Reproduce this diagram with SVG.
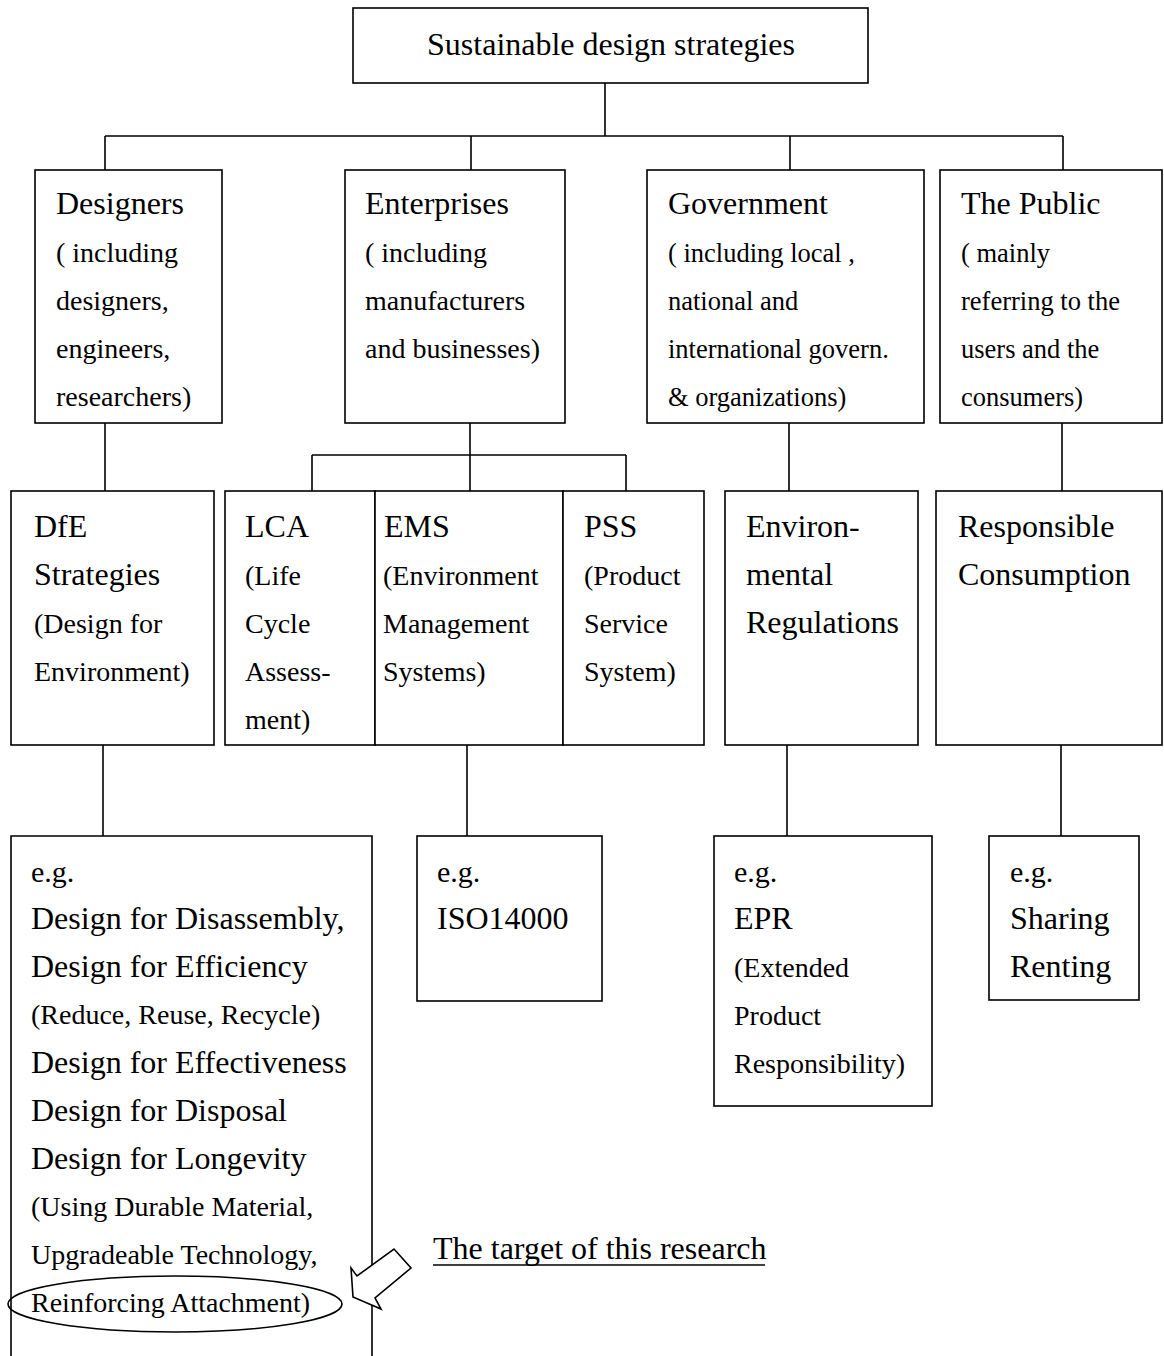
<svg xmlns="http://www.w3.org/2000/svg" width="1164" height="1356" viewBox="0 0 1164 1356">
  <style>
    .box { fill: #ffffff; stroke: #000000; stroke-width: 1.6; }
    .line { fill: none; stroke: #000000; stroke-width: 1.6; }
    text { font-family: "Liberation Serif", "Times New Roman", serif; fill: #000000; }
    .t { font-size: 32px; }
    .s { font-size: 28px; }
    .s2 { font-size: 26.5px; }
    .eg { font-size: 30px; }
  </style>
  <rect width="1164" height="1356" fill="#ffffff"/>

  <!-- connectors -->
  <g id="connectors">
    <path class="line" d="M605 83 V136 M105 136 H1063 M105 136 V170 M471 136 V170 M790 136 V170 M1063 136 V170"/>
    <path class="line" d="M105 423 V491"/>
    <path class="line" d="M470 423 V491 M312 455 H626 M312 455 V491 M626 455 V491"/>
    <path class="line" d="M789 423 V491"/>
    <path class="line" d="M1062 423 V491"/>
    <path class="line" d="M103 745 V836"/>
    <path class="line" d="M467 745 V836"/>
    <path class="line" d="M787 745 V836"/>
    <path class="line" d="M1061 745 V836"/>
  </g>

  <!-- root -->
  <g id="root">
    <rect class="box" x="353" y="8" width="515" height="75"/>
    <text class="t" x="611" y="55" text-anchor="middle">Sustainable design strategies</text>
  </g>

  <!-- stakeholders -->
  <g id="designers">
    <rect class="box" x="35" y="170" width="187" height="253"/>
    <text class="t" x="56" y="214">Designers</text>
    <text class="s" x="56" y="262">( including</text>
    <text class="s" x="56" y="310">designers,</text>
    <text class="s" x="56" y="358">engineers,</text>
    <text class="s" x="56" y="406">researchers)</text>
  </g>
  <g id="enterprises">
    <rect class="box" x="345" y="170" width="220" height="253"/>
    <text class="t" x="365" y="214">Enterprises</text>
    <text class="s" x="365" y="262">( including</text>
    <text class="s" x="365" y="310">manufacturers</text>
    <text class="s" x="365" y="358">and businesses)</text>
  </g>
  <g id="government">
    <rect class="box" x="647" y="170" width="277" height="253"/>
    <text class="t" x="668" y="214">Government</text>
    <text class="s2" x="668" y="262">( including local ,</text>
    <text class="s2" x="668" y="310">national and</text>
    <text class="s2" x="668" y="358">international govern.</text>
    <text class="s2" x="668" y="406">&amp; organizations)</text>
  </g>
  <g id="public">
    <rect class="box" x="940" y="170" width="222" height="253"/>
    <text class="t" x="961" y="214">The Public</text>
    <text class="s2" x="961" y="262">( mainly</text>
    <text class="s2" x="961" y="310">referring to the</text>
    <text class="s2" x="961" y="358">users and the</text>
    <text class="s2" x="961" y="406">consumers)</text>
  </g>

  <!-- strategies -->
  <g id="dfe">
    <rect class="box" x="11" y="491" width="203" height="254"/>
    <text class="t" x="34" y="537">DfE</text>
    <text class="t" x="34" y="585">Strategies</text>
    <text class="s" x="34" y="633">(Design for</text>
    <text class="s" x="34" y="681">Environment)</text>
  </g>
  <g id="lca">
    <rect class="box" x="225" y="491" width="150" height="254"/>
    <text class="t" x="245" y="537">LCA</text>
    <text class="s" x="245" y="585">(Life</text>
    <text class="s" x="245" y="633">Cycle</text>
    <text class="s" x="245" y="681">Assess-</text>
    <text class="s" x="245" y="729">ment)</text>
  </g>
  <g id="ems">
    <rect class="box" x="375" y="491" width="188" height="254"/>
    <text class="t" x="384" y="537">EMS</text>
    <text class="s" x="383" y="585">(Environment</text>
    <text class="s" x="383" y="633">Management</text>
    <text class="s" x="383" y="681">Systems)</text>
  </g>
  <g id="pss">
    <rect class="box" x="563" y="491" width="141" height="254"/>
    <text class="t" x="584" y="537">PSS</text>
    <text class="s" x="584" y="585">(Product</text>
    <text class="s" x="584" y="633">Service</text>
    <text class="s" x="584" y="681">System)</text>
  </g>
  <g id="regulations">
    <rect class="box" x="725" y="491" width="193" height="254"/>
    <text class="t" x="746" y="537">Environ-</text>
    <text class="t" x="746" y="585">mental</text>
    <text class="t" x="746" y="633">Regulations</text>
  </g>
  <g id="consumption">
    <rect class="box" x="936" y="491" width="226" height="254"/>
    <text class="t" x="958" y="537">Responsible</text>
    <text class="t" x="958" y="585">Consumption</text>
  </g>

  <!-- examples -->
  <g id="dfe-examples">
    <path class="line" d="M11 1356 V836 H372 V1356"/>
    <text class="eg" x="31" y="882">e.g.</text>
    <text class="t" x="31" y="929">Design for Disassembly,</text>
    <text class="t" x="31" y="977">Design for Efficiency</text>
    <text class="s" x="31" y="1024">(Reduce, Reuse, Recycle)</text>
    <text class="t" x="31" y="1073">Design for Effectiveness</text>
    <text class="t" x="31" y="1121">Design for Disposal</text>
    <text class="t" x="31" y="1169">Design for Longevity</text>
    <text class="s" x="31" y="1216">(Using Durable Material,</text>
    <text class="s" x="31" y="1264">Upgradeable Technology,</text>
    <text class="s" x="31" y="1312">Reinforcing Attachment)</text>
    <ellipse class="line" cx="175" cy="1304" rx="167" ry="28"/>
  </g>
  <g id="iso-example">
    <rect class="box" x="417" y="836" width="185" height="165"/>
    <text class="eg" x="437" y="882">e.g.</text>
    <text class="t" x="437" y="929">ISO14000</text>
  </g>
  <g id="epr-example">
    <rect class="box" x="714" y="836" width="218" height="270"/>
    <text class="eg" x="734" y="882">e.g.</text>
    <text class="t" x="734" y="929">EPR</text>
    <text class="s" x="734" y="977">(Extended</text>
    <text class="s" x="734" y="1025">Product</text>
    <text class="s" x="734" y="1073">Responsibility)</text>
  </g>
  <g id="sharing-example">
    <rect class="box" x="989" y="836" width="150" height="164"/>
    <text class="eg" x="1010" y="882">e.g.</text>
    <text class="t" x="1010" y="929">Sharing</text>
    <text class="t" x="1010" y="977">Renting</text>
  </g>

  <!-- research target callout: hollow block arrow pointing at the circled item -->
  <g id="target">
    <polygon class="box" points="351,1268 357,1276 394,1249 411,1268 375,1298 381,1309 353,1297"/>
    <text class="t" x="433" y="1259">The target of this research</text>
    <line class="line" x1="433" y1="1265" x2="765" y2="1265" stroke-width="1.4"/>
  </g>
</svg>
